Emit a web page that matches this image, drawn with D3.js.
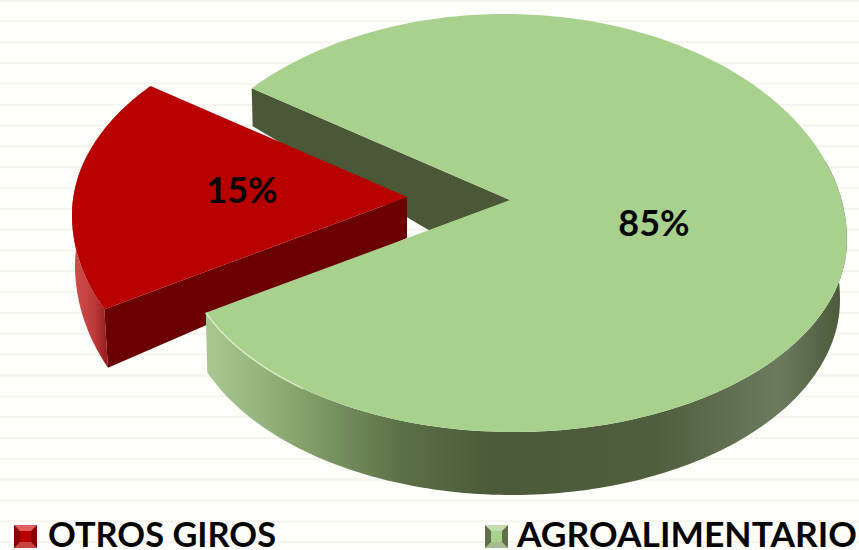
<!DOCTYPE html>
<html>
<head>
<meta charset="utf-8">
<script src="https://cdn.jsdelivr.net/npm/d3@7"></script>
<style>
  html, body { margin: 0; padding: 0; background: #fefefa; }
  svg { display: block; }
  text { font-family: Lato, sans-serif; font-weight: 700; fill: #050505; }
</style>
</head>
<body>
<svg id="pie" width="859" height="550"></svg>
<script>
var categories = ["OTROS GIROS", "AGROALIMENTARIO"];
var shares = [15, 85];
var sliceColors = ["#b90000", "#a9d18e"];
var wallColors = ["#6a0000", "#4a5838"];

var width = 859;
var height = 550;

// the picture's tilt is not a clean ellipse, so front and back half get their own numbers
var greenTop = { cy: 240, front: { cx: 514, rx: 333, ry: 192 }, back: { cx: 505, rx: 342, ry: 226 } };
var greenBottom = { cy: 300, front: { cx: 512, rx: 328, ry: 195 }, back: { cx: 512, rx: 328, ry: 250 } };
var redTop = { cy: 215, front: { cx: 405, rx: 333, ry: 219 }, back: { cx: 405, rx: 333, ry: 200 } };
var redBottom = { cy: 265, front: { cx: 408, rx: 333, ry: 237 }, back: { cx: 408, rx: 333, ry: 200 } };
var apex = [510, 200];
var apexBelow = [510, 260];
var redApex = [407, 197];
var redApexBelow = [407, 257];
var aspect = 1.27;

var svg = d3.select("#pie");

// faint ruled paper behind the chart
svg.selectAll("line.rule")
  .data(d3.range(0, 27))
  .enter()
  .append("line")
  .attr("class", "rule")
  .attr("x1", 0)
  .attr("x2", width)
  .attr("y1", d => 0.5 + d * 20.83)
  .attr("y2", d => 0.5 + d * 20.83)
  .attr("stroke", "#f4f3ee")
  .attr("stroke-width", 2);

var defs = svg.append("defs");

function addGradient(id, x1, x2, stops) {
  var g = defs.append("linearGradient")
    .attr("id", id)
    .attr("gradientUnits", "userSpaceOnUse")
    .attr("x1", x1).attr("x2", x2)
    .attr("y1", 0).attr("y2", 0);
  stops.forEach(function(s) {
    g.append("stop").attr("offset", s[0]).attr("stop-color", s[1]);
  });
}

addGradient("greenRim", 212, 842, [
  [0, "#a8c690"], [0.12, "#8aa871"], [0.3, "#5c7047"], [0.45, "#4b5a39"],
  [0.7, "#4f5e3d"], [0.9, "#6b7b5e"], [1, "#4b5a39"]
]);
addGradient("redRim", 72, 110, [[0, "#d05050"], [0.6, "#bd3a3a"], [1, "#8a1515"]]);

// where a ray leaving p at pie angle a meets the rim
function rimPoint(a, p, rim) {
  var dx = aspect * Math.sin(a);
  var dy = -Math.cos(a);
  var out = null;
  [rim.front, rim.back].forEach(function(h, i) {
    if (out) return;
    var ex = (p[0] - h.cx) / h.rx, ey = (p[1] - rim.cy) / h.ry;
    var fx = dx / h.rx, fy = dy / h.ry;
    var A = fx * fx + fy * fy;
    var B = 2 * (ex * fx + ey * fy);
    var C = ex * ex + ey * ey - 1;
    var t = (-B + Math.sqrt(B * B - 4 * A * C)) / (2 * A);
    var y = p[1] + t * dy;
    if (i == 1 || y >= rim.cy) out = [p[0] + t * dx, y];
  });
  return out;
}

function arcAngles(a0, a1) {
  return d3.range(0, 121).map(d => a0 + (a1 - a0) * d / 120);
}

var pie = d3.pie()
  .sort(null)
  .startAngle(244.8 * Math.PI / 180)
  .endAngle((244.8 + 360) * Math.PI / 180);

var arcs = pie(shares);
var red = arcs[0];
var green = arcs[1];
var line = d3.line();
var poly = pts => line(pts) + "Z";

// back wall of the gap left by the pulled out slice
var backCorner = rimPoint(green.startAngle, apex, greenTop);
svg.append("path")
  .attr("d", poly([apex, backCorner, [backCorner[0] + 1, backCorner[1] + 38], [apex[0], apex[1] + 78]]))
  .attr("fill", wallColors[1]);

// red slice
var redAnglesFront = arcAngles(red.startAngle, red.startAngle + 0.6);
var redRimTop = redAnglesFront.map(a => rimPoint(a, redApex, redTop));
var redRimBottom = redAnglesFront.map(a => rimPoint(a, redApexBelow, redBottom));
svg.append("path")
  .attr("d", poly(redRimTop.concat(redRimBottom.slice().reverse())))
  .attr("fill", "url(#redRim)");
svg.append("path")
  .attr("d", poly([redApex, [redApex[0], redApex[1] + 41], redRimBottom[0], redRimTop[0]]))
  .attr("fill", wallColors[0]);
svg.append("path")
  .attr("d", poly([redApex].concat(arcAngles(red.startAngle, red.endAngle).map(a => rimPoint(a, redApex, redTop)))))
  .attr("fill", sliceColors[0]);

// green rim, only the part that faces the viewer
var rimAngles = arcAngles(Math.PI * 2.45, green.endAngle);
var rimTop = rimAngles.map(a => rimPoint(a, apex, greenTop));
var rimBottom = rimAngles.map(a => rimPoint(a, apexBelow, greenBottom));
svg.append("path")
  .attr("d", poly(rimTop.concat(rimBottom.slice().reverse())))
  .attr("fill", "url(#greenRim)");

// green top face
svg.append("path")
  .attr("d", poly([apex].concat(arcAngles(green.startAngle, green.endAngle).map(a => rimPoint(a, apex, greenTop)))))
  .attr("fill", sliceColors[1]);

// little highlight along the rim on the lit side
svg.append("path")
  .attr("d", line(arcAngles(green.endAngle - 0.42, green.endAngle).map(a => rimPoint(a, apex, greenTop))))
  .attr("fill", "none")
  .attr("stroke", "#d8ecc4")
  .attr("stroke-width", 1.5);

// value labels
var labelPos = d3.scaleOrdinal().domain(categories).range([[242, 203], [654, 236]]);
svg.selectAll("text.value")
  .data(shares)
  .enter()
  .append("text")
  .attr("class", "value")
  .attr("x", (d, i) => labelPos(categories[i])[0])
  .attr("y", (d, i) => labelPos(categories[i])[1])
  .attr("text-anchor", "middle")
  .attr("font-size", 36)
  .text(d => d + "%");

// legend
var legendX = d3.scaleOrdinal().domain(categories).range([14, 485]);
var legendLight = ["#e06060", "#c4dcae"];
var legendDark = ["#8a0000", "#5f7048"];
var markerSize = 23;

var legend = svg.selectAll("g.legend")
  .data(categories)
  .enter()
  .append("g")
  .attr("class", "legend")
  .attr("transform", d => "translate(" + legendX(d) + ",525)");

legend.append("rect")
  .attr("width", markerSize)
  .attr("height", markerSize)
  .attr("fill", (d, i) => legendDark[i]);
legend.append("path")
  .attr("d", "M0,0H" + markerSize + "L" + (markerSize - 6) + ",6H6Z")
  .attr("fill", (d, i) => legendLight[i]);
legend.append("path")
  .attr("d", "M0," + markerSize + "H" + markerSize + "L" + (markerSize - 6) + "," + (markerSize - 6) + "H6Z")
  .attr("fill", (d, i) => legendLight[i])
  .attr("opacity", 0.7);
legend.append("rect")
  .attr("x", 6)
  .attr("y", 6)
  .attr("width", markerSize - 12)
  .attr("height", markerSize - 12)
  .attr("fill", (d, i) => sliceColors[i]);

legend.append("text")
  .attr("x", (d, i) => [34, 32][i])
  .attr("y", 22)
  .attr("font-size", 35)
  .attr("textLength", (d, i) => [228, 340][i])
  .attr("lengthAdjust", "spacingAndGlyphs")
  .text(d => d);
</script>
</body>
</html>
